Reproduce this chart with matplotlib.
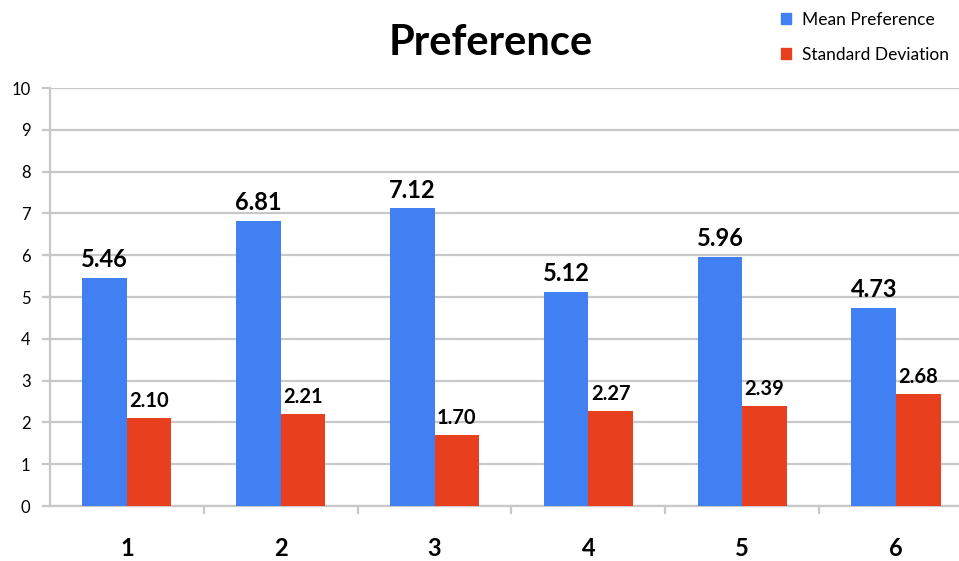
import numpy as np
import matplotlib.pyplot as plt
from matplotlib.patches import Patch

plt.rcParams['font.family'] = ['Lato', 'DejaVu Sans']

groups = ['1', '2', '3', '4', '5', '6']
mean_pref = [5.46, 6.81, 7.12, 5.12, 5.96, 4.73]
std_dev = [2.10, 2.21, 1.70, 2.27, 2.39, 2.68]

blue = '#4080f2'
red = '#e8401e'
grid = '#c8c8c8'

fig = plt.figure(figsize=(9.59, 5.61), dpi=100)
ax = fig.add_axes([0.0521, 0.098, 0.9625, 0.745])

x = np.arange(len(groups))
w = 0.29
b1 = ax.bar(x - w / 2, mean_pref, w, color=blue, zorder=3)
b2 = ax.bar(x + w / 2, std_dev, w, color=red, zorder=3)

for bar, v in zip(b1, mean_pref):
    ax.annotate(f'{v:.2f}', (bar.get_x() + bar.get_width() / 2, v),
                xytext=(0, 5), textcoords='offset points', ha='center', va='bottom',
                fontsize=17, fontweight='bold')
for bar, v in zip(b2, std_dev):
    ax.annotate(f'{v:.2f}', (bar.get_x() + bar.get_width() / 2, v),
                xytext=(0, 5), textcoords='offset points', ha='center', va='bottom',
                fontsize=14.5, fontweight='bold')

ax.set_xlim(-0.5, len(groups) - 0.5)
ax.set_ylim(0, 10)
ax.set_yticks(range(0, 11))
ax.yaxis.grid(True, color=grid, linewidth=1.6, zorder=0)
ax.set_xticks(x)
ax.set_xticklabels(groups, fontsize=17, fontweight='bold')
ax.set_xticks(np.arange(0.5, len(groups) - 0.5), minor=True)
ax.tick_params(axis='x', which='major', length=0, pad=22)
ax.tick_params(axis='x', which='minor', length=6, color=grid, width=1.6)
ax.tick_params(axis='y', length=6, color=grid, width=1.6, labelsize=12, pad=8)

for s in ['top', 'right']:
    ax.spines[s].set_visible(False)
for s in ['left', 'bottom']:
    ax.spines[s].set_color(grid)
    ax.spines[s].set_linewidth(1.6)

fig.text(0.512, 0.924, 'Preference', ha='center', va='center', fontsize=30, fontweight='bold')

handles = [Patch(color=blue), Patch(color=red)]
fig.legend(handles, ['Mean Preference', 'Standard Deviation'], loc='upper left',
           bbox_to_anchor=(0.798, 1.007), frameon=False, fontsize=12.5,
           handlelength=0.6, handleheight=0.6, handletextpad=0.6, labelspacing=1.1)

fig.savefig('out.png', dpi=100)
